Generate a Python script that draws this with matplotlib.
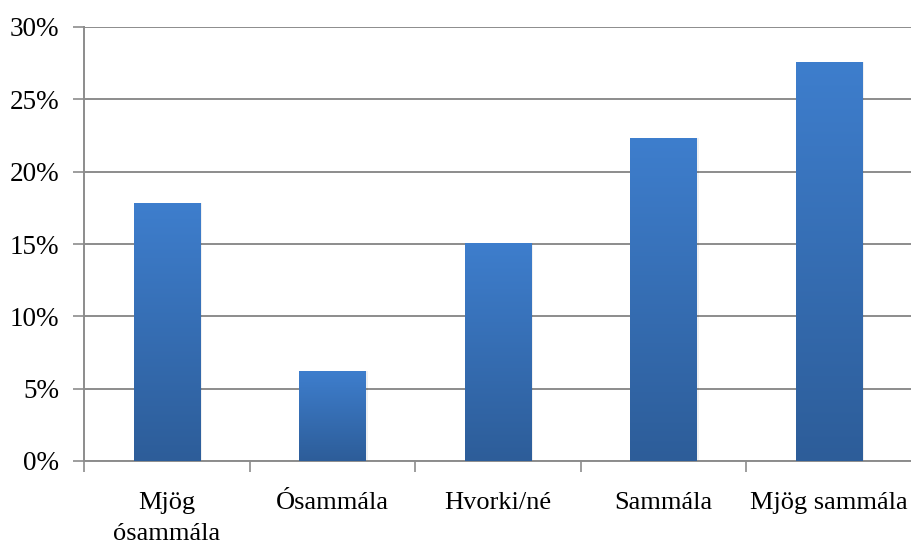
import numpy as np
from matplotlib import pyplot as plt
from matplotlib.colors import LinearSegmentedColormap
from matplotlib.ticker import FuncFormatter

categories = ["Mjög\nósammála", "Ósammála", "Hvorki/né", "Sammála", "Mjög sammála"]
values = [17.8, 6.2, 15.1, 22.3, 27.6]
yticks = [0, 5, 10, 15, 20, 25, 30]

plt.rcParams['font.family'] = ['Liberation Serif', 'DejaVu Serif']

fig = plt.figure(figsize=(9.12, 5.42), dpi=100)
ax = fig.add_axes([84 / 912, 81 / 542, 828 / 912, 434 / 542])

x = np.arange(len(categories))
grey = '#8c8c8c'

# gradient: lighter at the top, darker at the bottom
cmap = LinearSegmentedColormap.from_list('bar', ['#2d5d99', '#3e7ecd'])
grad = np.linspace(0, 1, 256).reshape(-1, 1)

bars = ax.bar(x, values, width=0.4, color='none', zorder=3)
for b in bars:
    x0, y0 = b.get_x(), b.get_y()
    w, h = b.get_width(), b.get_height()
    # faint shadow
    ax.bar(x0 + w / 2 + 0.006, h, width=w + 0.012, bottom=0, color='#000000',
           alpha=0.06, zorder=2)
    im = ax.imshow(grad, extent=[x0, x0 + w, y0, y0 + h], origin='lower',
                   cmap=cmap, aspect='auto', zorder=3)
    im.set_clip_path(b)

ax.set_xlim(-0.5, 4.5)
ax.set_ylim(0, 30)
ax.set_yticks(yticks)
ax.yaxis.set_major_formatter(FuncFormatter(lambda v, p: f"{v:.0f}%"))
ax.yaxis.grid(True, color=grey, linewidth=1.4, zorder=1)
ax.set_axisbelow(True)

ax.set_xticks(x)
ax.set_xticklabels(categories, linespacing=1.55)
ax.set_xticks(np.arange(-0.5, 5, 1), minor=True)
ax.tick_params(axis='x', which='major', length=0, pad=22, labelsize=19)
ax.tick_params(axis='x', which='minor', length=8, width=1.2, color=grey)
ax.tick_params(axis='y', length=8, width=1.2, color=grey, pad=10, labelsize=19.5)

for s in ['top', 'right']:
    ax.spines[s].set_visible(False)
for s in ['left', 'bottom']:
    ax.spines[s].set_color(grey)
    ax.spines[s].set_linewidth(1.4)

fig.savefig('out.png', dpi=100)
